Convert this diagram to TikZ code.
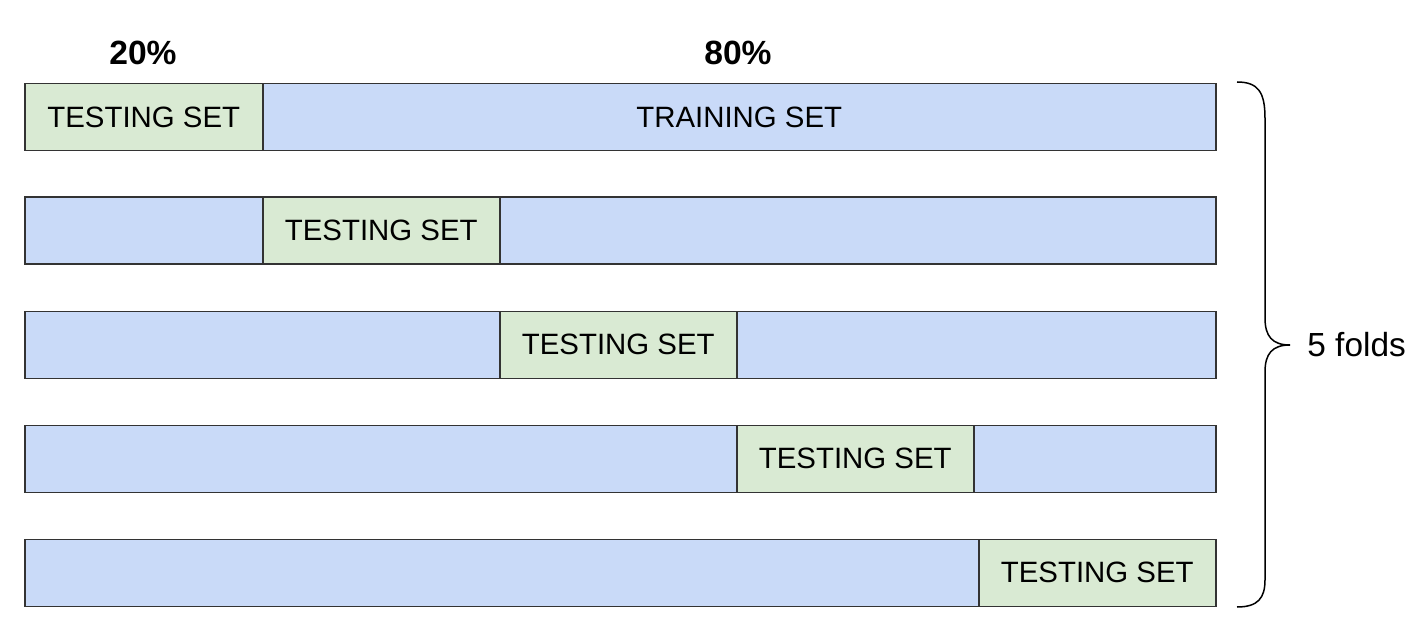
\documentclass[tikz,border=0pt]{standalone}
\usepackage{fontspec}
\setmainfont{Liberation Sans}
\definecolor{testgreen}{HTML}{D9EAD3}
\definecolor{trainblue}{HTML}{C9DAF8}
\begin{document}
\begin{tikzpicture}[x=0.5pt, y=-0.5pt]
        \tikzstyle{every node}=[inner sep=0pt, font=\fontsize{14.7}{17}\selectfont]
        \tikzstyle{part}=[draw=black!80, line width=0.75pt, rectangle, anchor=north west, minimum height=33.5pt]
        \tikzstyle{test}=[part, fill=testgreen]
        \tikzstyle{train}=[part, fill=trainblue]
        \tikzstyle{pct}=[font=\fontsize{16.8}{19}\selectfont\bfseries]

        \useasboundingbox (0,0) rectangle (1421,631);

% percentages above the first fold
        \node[pct] (p20) at (143,53) {20\%};
        \node[pct] (p80) at (738,53) {80\%};

% fold 1
        \node[test, minimum width=119pt] (t1) at (24,83) {TESTING SET};
        \node[train, minimum width=476.5pt] (r1) at (262,83) {TRAINING SET};

% fold 2
        \node[train, minimum width=119pt] (a2) at (24,196.5) {};
        \node[test, minimum width=118.5pt] (t2) at (262,196.5) {TESTING SET};
        \node[train, minimum width=358pt] (b2) at (499,196.5) {};

% fold 3
        \node[train, minimum width=237.5pt] (a3) at (24,310.5) {};
        \node[test, minimum width=118.5pt] (t3) at (499,310.5) {TESTING SET};
        \node[train, minimum width=239.5pt] (b3) at (736,310.5) {};

% fold 4
        \node[train, minimum width=356pt] (a4) at (24,424.5) {};
        \node[test, minimum width=118.5pt] (t4) at (736,424.5) {TESTING SET};
        \node[train, minimum width=121pt] (b4) at (973,424.5) {};

% fold 5
        \node[train, minimum width=477pt] (a5) at (24,538.5) {};
        \node[test, minimum width=118.5pt] (t5) at (978,538.5) {TESTING SET};

% brace
        \node[anchor=west, font=\fontsize{16.7}{19}\selectfont] (folds) at (1307,345) {5 folds};
        \coordinate (tip) at (1290,345);
        \draw[line width=0.75pt] (1237,82) .. controls (1258,82) and (1265,92) .. (1265,118)
            -- (1265,318) .. controls (1265,336) and (1272,345) .. (tip)
            .. controls (1272,345) and (1265,354) .. (1265,372)
            -- (1265,580) .. controls (1265,598) and (1258,607) .. (1237,607);

    \end{tikzpicture}
\end{document}
